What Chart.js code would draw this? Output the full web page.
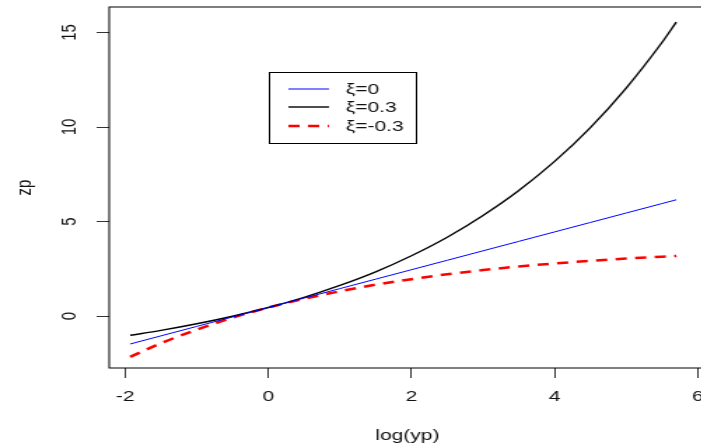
<!DOCTYPE html>
<html>
<head>
<meta charset="utf-8">
<script src="https://cdn.jsdelivr.net/npm/chart.js@4/dist/chart.umd.min.js"></script>
<style>
  html, body { margin: 0; padding: 0; background: #fff; overflow: hidden; width: 701px; height: 446px; }
  #chart { display: block; transform: scaleX(1.4); transform-origin: 0 0; }
</style>
</head>
<body>
<canvas id="chart" width="505" height="446"></canvas>
<script>
// valeurs
const xVals = [-1.93, -1.5, -1, -0.5, 0, 0.5, 1, 1.5, 2, 2.5, 3, 3.5, 4, 4.5, 5, 5.5, 5.7];
const zpXi0 = [-1.48, -1.05, -0.55, -0.05, 0.45, 0.95, 1.45, 1.95, 2.45, 2.95, 3.45, 3.95, 4.45, 4.95, 5.45, 5.95, 6.15];
const zpXiPos = [-1.02, -0.76, -0.41, -0.01, 0.45, 0.99, 1.62, 2.34, 3.19, 4.17, 5.32, 6.64, 8.18, 9.97, 12.06, 14.47, 15.55];
const zpXiNeg = [-2.16, -1.44, -0.72, -0.09, 0.45, 0.91, 1.31, 1.66, 1.95, 2.21, 2.43, 2.62, 2.78, 2.92, 3.04, 3.14, 3.18];
const seriesLabels = ['ξ=0', 'ξ=0.3', 'ξ=-0.3'];
const xTicks = [-2, 0, 2, 4, 6];
const yTicks = [0, 5, 10, 15];

const FONT = 'Liberation Sans, Arial, sans-serif';

function pts(ys) {
    return xVals.map((x, i) => ({ x: x, y: ys[i] }));
}

// boite du graphique + libellés des axes (style R) + légende
const rPlot = {
    id: 'rPlot',
    afterDraw(chart) {
        const ctx = chart.ctx;
        const a = chart.chartArea;
        ctx.save();
        ctx.strokeStyle = '#000';
        ctx.lineWidth = 1;
        ctx.strokeRect(a.left, a.top, a.right - a.left, a.bottom - a.top);

        ctx.fillStyle = '#111';
        ctx.font = '15px ' + FONT;
        ctx.textAlign = 'center';
        ctx.textBaseline = 'middle';

        // libellés x
        const xs = chart.scales.x;
        xTicks.forEach(v => {
            ctx.fillText(String(v), xs.getPixelForValue(v), 397);
        });

        // libellés y, tournés
        const ys = chart.scales.y;
        yTicks.forEach(v => {
            const py = ys.getPixelForValue(v);
            ctx.save();
            ctx.translate(50, py);
            ctx.rotate(-Math.PI / 2);
            ctx.fillText(String(v), 0, 0);
            ctx.restore();
        });

        // légende
        const lx = 192, ly = 72, lw = 105, lh = 71;
        ctx.fillStyle = '#fff';
        ctx.fillRect(lx, ly, lw, lh);
        ctx.strokeStyle = '#000';
        ctx.strokeRect(lx + 0.5, ly + 0.5, lw, lh);
        const rows = [89, 107, 126];
        chart.data.datasets.forEach((ds, i) => {
            ctx.beginPath();
            ctx.strokeStyle = ds.borderColor;
            ctx.lineWidth = ds.borderWidth;
            ctx.setLineDash(ds.borderDash || []);
            ctx.moveTo(206, rows[i]);
            ctx.lineTo(235, rows[i]);
            ctx.stroke();
            ctx.setLineDash([]);
            ctx.fillStyle = '#111';
            ctx.textAlign = 'left';
            ctx.fillText(ds.label, 247, rows[i] + 1);
        });
        ctx.restore();
    }
};

new Chart(document.getElementById('chart'), {
    type: 'line',
    data: {
        datasets: [
            { label: seriesLabels[0], data: pts(zpXi0), borderColor: '#0000ff', borderWidth: 1 },
            { label: seriesLabels[1], data: pts(zpXiPos), borderColor: '#000000', borderWidth: 1.4 },
            { label: seriesLabels[2], data: pts(zpXiNeg), borderColor: '#ff0000', borderWidth: 2.5, borderDash: [8, 6] }
        ]
    },
    options: {
        responsive: false,
        animation: false,
        devicePixelRatio: 1,
        layout: { padding: { top: 7, right: 1, left: 0, bottom: 0 } },
        elements: {
            point: { radius: 0 },
            line: { tension: 0.4, cubicInterpolationMode: 'monotone', fill: false }
        },
        plugins: {
            legend: { display: false },
            tooltip: { enabled: false }
        },
        scales: {
            x: {
                type: 'linear',
                min: -2.223,
                max: 6.11,
                afterBuildTicks: s => { s.ticks = xTicks.map(v => ({ value: v })); },
                afterFit: s => { s.height = 78; },
                border: { display: false },
                grid: { drawOnChartArea: false, drawTicks: true, tickLength: 10, color: '#333' },
                ticks: { display: false },
                title: {
                    display: true,
                    text: 'log(yp)',
                    color: '#111',
                    font: { size: 15, family: FONT },
                    padding: { top: 0, bottom: 1 }
                }
            },
            y: {
                type: 'linear',
                min: -2.75,
                max: 16.35,
                afterBuildTicks: s => { s.ticks = yTicks.map(v => ({ value: v })); },
                afterFit: s => { s.width = 78; },
                border: { display: false },
                grid: { drawOnChartArea: false, drawTicks: true, tickLength: 9, color: '#333' },
                ticks: { display: false },
                title: {
                    display: true,
                    text: 'zp',
                    color: '#111',
                    font: { size: 15, family: FONT },
                    padding: { top: 9, bottom: 0 }
                }
            }
        }
    },
    plugins: [rPlot]
});
</script>
</body>
</html>
